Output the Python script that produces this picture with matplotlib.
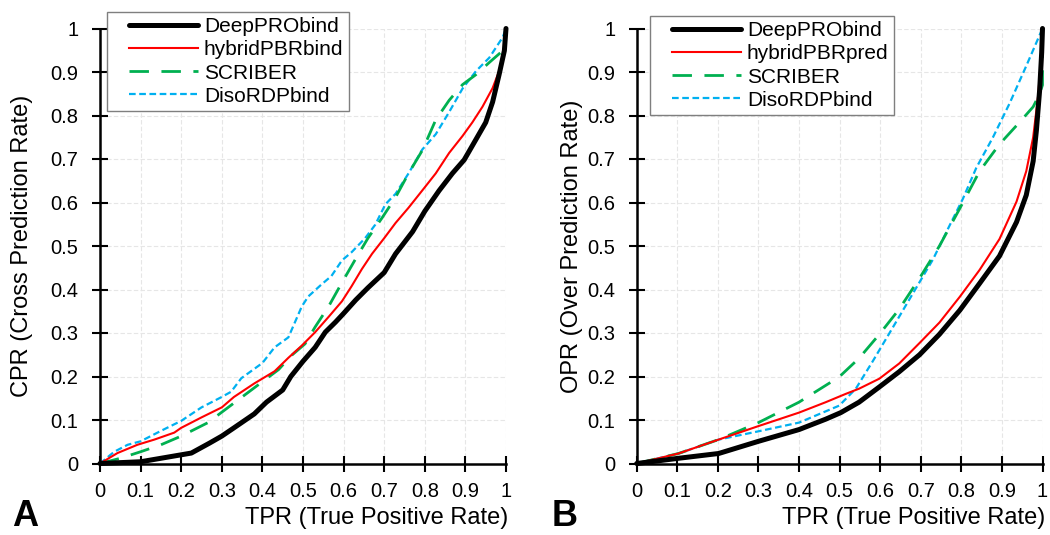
import numpy as np
import matplotlib.pyplot as plt
from matplotlib.legend_handler import HandlerLine2D

plt.rcParams["font.family"] = ["Liberation Sans", "DejaVu Sans"]

# panel A: CPR vs TPR
a_deep_x = [0, 0.1, 0.15, 0.2, 0.225, 0.27, 0.3, 0.33, 0.38, 0.41, 0.45, 0.47, 0.5, 0.53, 0.555,
            0.58, 0.6, 0.63, 0.66, 0.7, 0.728, 0.77, 0.8, 0.835, 0.868, 0.897, 0.926, 0.95, 0.967,
            0.983, 0.996, 1]
a_deep_y = [0, 0.004, 0.012, 0.02, 0.024, 0.047, 0.063, 0.082, 0.114, 0.141, 0.169, 0.2, 0.235,
            0.267, 0.302, 0.325, 0.345, 0.376, 0.404, 0.439, 0.482, 0.533, 0.58, 0.627, 0.667,
            0.698, 0.745, 0.784, 0.831, 0.894, 0.949, 1]

a_hyb_x = [0, 0.043, 0.092, 0.134, 0.183, 0.2, 0.25, 0.3, 0.33, 0.38, 0.43, 0.464, 0.497, 0.53,
           0.563, 0.596, 0.62, 0.645, 0.67, 0.7, 0.728, 0.76, 0.8, 0.827, 0.86, 0.893, 0.917,
           0.942, 0.967, 0.983, 0.996, 1]
a_hyb_y = [0, 0.024, 0.043, 0.055, 0.071, 0.082, 0.106, 0.129, 0.153, 0.184, 0.212, 0.243, 0.271,
           0.302, 0.337, 0.373, 0.408, 0.447, 0.482, 0.518, 0.553, 0.588, 0.635, 0.667, 0.714,
           0.753, 0.784, 0.82, 0.863, 0.902, 0.949, 1]

a_scr_x = [0, 0.05, 0.1, 0.15, 0.2, 0.266, 0.3, 0.35, 0.4, 0.44, 0.47, 0.505, 0.53, 0.563, 0.596,
           0.63, 0.66, 0.695, 0.728, 0.76, 0.794, 0.827, 0.86, 0.893, 0.926, 0.959, 0.992, 1]
a_scr_y = [0, 0.012, 0.027, 0.043, 0.063, 0.094, 0.118, 0.153, 0.188, 0.216, 0.247, 0.275, 0.314,
           0.361, 0.416, 0.471, 0.518, 0.565, 0.612, 0.667, 0.72, 0.79, 0.835, 0.871, 0.894,
           0.922, 0.949, 1]

a_dis_x = [0, 0.035, 0.068, 0.1, 0.15, 0.2, 0.25, 0.3, 0.323, 0.348, 0.4, 0.43, 0.464, 0.497,
           0.513, 0.546, 0.57, 0.596, 0.62, 0.653, 0.678, 0.703, 0.728, 0.76, 0.794, 0.827, 0.86,
           0.893, 0.926, 0.959, 0.992, 1]
a_dis_y = [0, 0.027, 0.043, 0.051, 0.075, 0.098, 0.129, 0.153, 0.165, 0.196, 0.231, 0.267, 0.29,
           0.361, 0.384, 0.412, 0.431, 0.467, 0.486, 0.518, 0.549, 0.596, 0.62, 0.667, 0.722,
           0.757, 0.808, 0.862, 0.902, 0.933, 0.98, 1]

# panel B: OPR vs TPR
b_deep_x = [0, 0.103, 0.202, 0.3, 0.4, 0.466, 0.503, 0.548, 0.598, 0.647, 0.697, 0.746, 0.796,
            0.845, 0.894, 0.936, 0.96, 0.977, 0.985, 0.993, 0.998, 1]
b_deep_y = [0, 0.012, 0.023, 0.051, 0.078, 0.102, 0.117, 0.141, 0.176, 0.211, 0.25, 0.297, 0.352,
            0.414, 0.477, 0.555, 0.617, 0.695, 0.766, 0.859, 0.945, 1]

b_hyb_x = [0, 0.103, 0.202, 0.3, 0.4, 0.466, 0.515, 0.548, 0.598, 0.647, 0.697, 0.746, 0.796,
           0.845, 0.894, 0.936, 0.96, 0.977, 0.989, 0.998, 1]
b_hyb_y = [0, 0.023, 0.055, 0.086, 0.117, 0.141, 0.16, 0.172, 0.195, 0.23, 0.277, 0.324, 0.383,
           0.445, 0.516, 0.602, 0.672, 0.75, 0.844, 0.945, 1]

b_scr_x = [0, 0.103, 0.202, 0.3, 0.4, 0.499, 0.548, 0.598, 0.647, 0.697, 0.746, 0.796, 0.845,
           0.894, 0.944, 0.977, 0.993, 1, 1]
b_scr_y = [0, 0.023, 0.055, 0.094, 0.141, 0.199, 0.242, 0.297, 0.355, 0.426, 0.5, 0.586, 0.672,
           0.734, 0.785, 0.82, 0.85, 0.87, 1]

b_dis_x = [0, 0.103, 0.202, 0.3, 0.4, 0.499, 0.54, 0.581, 0.631, 0.68, 0.73, 0.771, 0.804, 0.837,
           0.878, 0.919, 0.96, 1]
b_dis_y = [0, 0.023, 0.055, 0.074, 0.094, 0.133, 0.172, 0.234, 0.3125, 0.39, 0.469, 0.547, 0.609,
           0.68, 0.75, 0.828, 0.914, 1]

ticks = [i / 10 for i in range(11)]
tick_labels = ["0"] + ["%.1f" % t for t in ticks[1:-1]] + ["1"]

styles = [
    dict(color="black", lw=3.6, solid_capstyle="round"),
    dict(color="#FF0000", lw=1.5),
    dict(color="#00B050", lw=2.0, dashes=(7, 4.5)),
    dict(color="#00B0F0", lw=1.6, dashes=(3, 1.6)),
]


class PaddedLine(HandlerLine2D):
    # legend sample line starts a bit right of the frame, like the original
    def get_xdata(self, legend, xdescent, ydescent, width, height, fontsize):
        xd = np.array([-xdescent + 0.2 * width, -xdescent + width])
        return xd, xd


fig = plt.figure(figsize=(10.5, 5.35), dpi=100)

H = 535.0
W = 1050.0
top_px, bot_px = 28.5, 463.5

panels = [
    dict(left=100, right=506, ylabel="CPR (Cross Prediction Rate)",
         names=["DeepPRObind", "hybridPBRbind", "SCRIBER", "DisoRDPbind"],
         data=[(a_deep_x, a_deep_y), (a_hyb_x, a_hyb_y), (a_scr_x, a_scr_y), (a_dis_x, a_dis_y)],
         legend_at=(107, 12), ylab_x=22, xlab_right=508, letter="A", letter_x=12),
    dict(left=636.7, right=1042.5, ylabel="OPR (Over Prediction Rate)",
         names=["DeepPRObind", "hybridPBRpred", "SCRIBER", "DisoRDPbind"],
         data=[(b_deep_x, b_deep_y), (b_hyb_x, b_hyb_y), (b_scr_x, b_scr_y), (b_dis_x, b_dis_y)],
         legend_at=(650, 16), ylab_x=572, xlab_right=1045, letter="B", letter_x=552),
]

for p in panels:
    wpx = p["right"] - p["left"]
    hpx = bot_px - top_px
    ax = fig.add_axes([p["left"] / W, (H - bot_px) / H, wpx / W, hpx / H])
    # draw in reverse so black sits underneath like the original
    for (x, y), name, st in list(zip(p["data"], p["names"], styles))[::-1]:
        ax.plot(x, y, label=name, clip_on=False, **st)
    ax.set_xlim(0, 1)
    ax.set_ylim(0, 1)
    ax.set_xticks(ticks)
    ax.set_yticks(ticks)
    ax.set_xticklabels(tick_labels)
    ax.set_yticklabels(tick_labels)
    ax.tick_params(direction="inout", length=11, width=1.5, labelsize=14.5)
    ax.tick_params(axis="x", pad=7.5)
    ax.tick_params(axis="y", pad=10)
    ax.grid(True, color="#e6e6e6", lw=0.8, linestyle=(0, (4, 2)))
    ax.set_axisbelow(True)
    for s in ["top", "right"]:
        ax.spines[s].set_visible(False)
    for s in ["left", "bottom"]:
        ax.spines[s].set_linewidth(1.8)

    ax.set_ylabel(p["ylabel"], fontsize=17)
    ax.yaxis.set_label_coords((p["ylab_x"] - p["left"]) / wpx, 0.5)
    ax.yaxis.label.set_verticalalignment("center")
    ax.set_xlabel("TPR (True Positive Rate)", fontsize=17)
    ax.xaxis.set_label_coords((p["xlab_right"] - p["left"]) / wpx, (bot_px - 524) / hpx)
    ax.xaxis.label.set_horizontalalignment("right")
    ax.xaxis.label.set_verticalalignment("baseline")

    handles, labels = ax.get_legend_handles_labels()
    lx, ly = p["legend_at"]
    leg = fig.legend(handles[::-1], labels[::-1], loc="upper left",
                     bbox_to_anchor=(lx / W, 1 - ly / H), fontsize=15, handlelength=4.1,
                     labelspacing=0.2, borderpad=0.25, handletextpad=0.3,
                     borderaxespad=0, fancybox=False, framealpha=1,
                     handler_map={h: PaddedLine() for h in handles})
    leg.get_frame().set_edgecolor("#7f7f7f")
    leg.get_frame().set_linewidth(1.0)

    fig.text(p["letter_x"] / W, 0.5 / H, p["letter"], fontsize=26, fontweight="bold",
             va="bottom", ha="left")

fig.savefig("out.png", dpi=100)
